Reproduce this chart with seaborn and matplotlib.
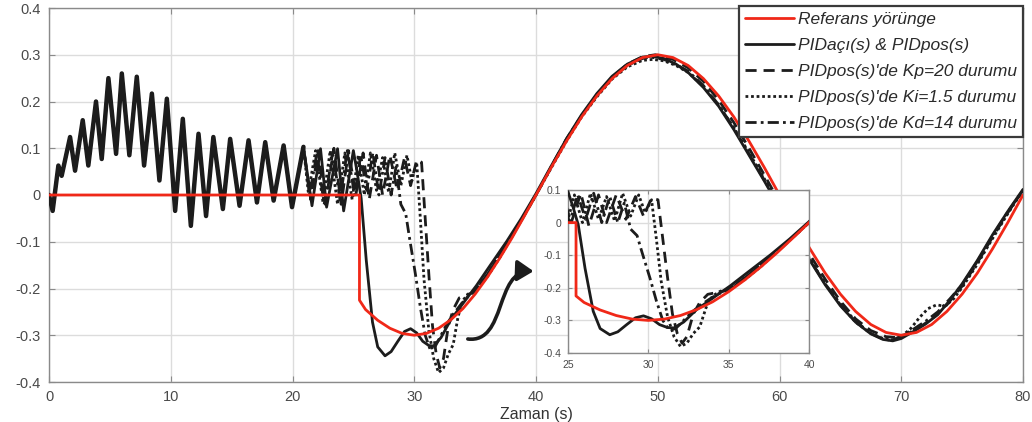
import matplotlib
matplotlib.use("Agg")
import matplotlib.pyplot as plt
import seaborn as sns
from matplotlib.path import Path
from matplotlib.patches import FancyArrowPatch

# --- reference trajectory (red)
t_ref = [0, 25.5, 25.5, 26, 27, 28, 29, 30, 31, 32, 33, 34, 35, 36, 37, 38, 39, 40,
         41.25, 42.5, 43.75, 45, 46.25, 47.5, 48.75, 50, 51.25, 52.5, 53.75, 55, 56.25,
         57.5, 58.75, 60, 61.25, 62.5, 63.75, 65, 66.25, 67.5, 68.75, 70, 71.25, 72.5,
         73.75, 75, 76.25, 77.5, 78.75, 80]
y_ref = [0, 0, -0.225, -0.245, -0.268, -0.285, -0.296, -0.300, -0.296, -0.285, -0.267,
         -0.243, -0.212, -0.176, -0.136, -0.093, -0.047, 0.0,
         0.059, 0.115, 0.167, 0.212, 0.249, 0.277, 0.294, 0.300, 0.294, 0.277, 0.249,
         0.212, 0.167, 0.115, 0.059, 0.0, -0.059, -0.115, -0.167, -0.212, -0.249,
         -0.277, -0.294, -0.300, -0.294, -0.277, -0.249, -0.212, -0.167, -0.115,
         -0.059, 0.0]

# --- oscillation shared by all controller responses (0 - 21 s)
t_osc = [0, 0.3, 0.77, 1.04, 1.73, 2.14, 2.77, 3.23, 3.86, 4.33, 4.88, 5.51, 5.98, 6.6,
         7.21, 7.81, 8.45, 9.07, 9.68, 10.36, 10.99, 11.65, 12.28, 12.9, 13.5, 14.28,
         14.88, 15.65, 16.39, 17.08, 17.76, 18.45, 19.27, 19.96, 20.9]
y_osc = [0.0, -0.034, 0.063, 0.041, 0.124, 0.052, 0.16, 0.063, 0.2, 0.077, 0.25, 0.088,
         0.26, 0.085, 0.253, 0.063, 0.217, 0.031, 0.206, -0.034, 0.163, -0.066, 0.131,
         -0.045, 0.124, -0.03, 0.12, -0.023, 0.117, -0.016, 0.113, -0.012, 0.106,
         -0.026, 0.103]

# --- PIDaci(s) & PIDpos(s)  (solid)
t_pid = [21.6, 22.3, 22.8, 23.7, 24.2, 25.0, 25.3, 25.64, 26.06, 26.57, 27.0, 27.6,
         28.1, 28.65, 29.2, 29.7, 30.2, 30.7, 31.2, 31.6, 32.2, 33.0, 34.0, 35.1, 36.2,
         37.6, 38.8, 40.0, 41.25, 42.5, 43.75, 45, 46.25, 47.5, 48.75, 49.5, 50.5, 51.5,
         52.5, 53.75, 55, 56.25, 57.5, 58.75, 60, 61.25, 62.5, 63.75, 65, 66.25, 67.5,
         68.5, 69.3, 70, 71, 72, 73, 74, 75, 76.25, 77.5, 78.75, 80]
y_pid = [-0.023, 0.099, -0.026, 0.099, -0.034, 0.095, 0.05, -0.007, -0.14, -0.272,
         -0.325, -0.344, -0.335, -0.313, -0.292, -0.286, -0.295, -0.313, -0.322,
         -0.323, -0.305, -0.267, -0.232, -0.194, -0.152, -0.099, -0.05, 0.003,
         0.062, 0.12, 0.172, 0.217, 0.254, 0.28, 0.295, 0.297, 0.292, 0.28, 0.262,
         0.23, 0.19, 0.14, 0.085, 0.03, -0.027, -0.085, -0.14, -0.192, -0.237, -0.272,
         -0.297, -0.309, -0.312, -0.307, -0.292, -0.276, -0.256, -0.225, -0.19, -0.14,
         -0.085, -0.035, 0.012]

# --- PIDpos(s)'de Kp=20 (dashed)
t_kp = [21.5, 22.1, 22.7, 23.4, 24.0, 24.6, 25.2, 25.8, 26.3, 26.9, 27.4, 28.0, 28.6,
        29.2, 29.7, 30.2, 30.6, 30.9, 31.2, 31.5, 31.8, 32.1, 32.4, 32.8, 33.2, 33.7,
        34.2, 34.7, 35.0, 36, 37, 38, 40, 41.25, 42.5, 43.75, 45, 46.25, 47.5, 48.75,
        49.8, 51.25, 52.5, 53.75, 55, 56.25, 57.5, 58.75, 60, 61.25, 62.5, 63.75, 65,
        66.25, 67.5, 68.75, 69.6, 70.5, 71.5, 72.5, 73.75, 75, 76.25, 77.5, 78.75, 80]
y_kp = [-0.01, 0.095, -0.02, 0.1, -0.02, 0.095, 0.0, 0.09, -0.01, 0.085, 0.0, 0.085,
        0.01, 0.08, 0.02, 0.075, 0.07, -0.05, -0.17, -0.28, -0.34, -0.37, -0.35,
        -0.28, -0.245, -0.22, -0.215, -0.21, -0.205, -0.17, -0.13, -0.09, 0.0, 0.06,
        0.118, 0.17, 0.215, 0.252, 0.28, 0.296, 0.3, 0.29, 0.272, 0.243, 0.203, 0.155,
        0.1, 0.043, -0.015, -0.073, -0.128, -0.18, -0.227, -0.265, -0.29, -0.303,
        -0.305, -0.297, -0.283, -0.265, -0.235, -0.195, -0.145, -0.09, -0.038, 0.01]

# --- PIDpos(s)'de Ki=1.5 (dotted)
t_ki = [21.3, 21.9, 22.5, 23.1, 23.7, 24.3, 24.9, 25.4, 25.9, 26.4, 26.9, 27.4, 27.9,
        28.4, 28.9, 29.4, 29.8, 30.2, 30.5, 30.8, 31.2, 31.6, 32.0, 32.4, 32.8, 33.2,
        33.6, 34.0, 34.5, 35.0, 36, 37, 38, 40, 41.25, 42.5, 43.75, 45, 46.25, 47.5,
        48.75, 49.6, 50.5, 51.5, 52.5, 53.75, 55, 56.25, 57.5, 58.75, 60, 61.25, 62.5,
        63.75, 65, 66.25, 67.5, 68.5, 69.3, 70, 70.8, 71.5, 72.2, 72.9, 73.6, 74.3, 75,
        76.25, 77.5, 78.75, 80]
y_ki = [0.005, 0.095, -0.015, 0.095, -0.02, 0.09, -0.01, 0.085, 0.0, 0.09, 0.01, 0.08,
        0.005, 0.09, 0.02, 0.085, 0.03, 0.07, -0.05, -0.18, -0.29, -0.35, -0.38,
        -0.37, -0.34, -0.32, -0.26, -0.225, -0.21, -0.205, -0.175, -0.135, -0.09, 0.0,
        0.058, 0.115, 0.167, 0.21, 0.248, 0.274, 0.288, 0.29, 0.287, 0.277, 0.262,
        0.232, 0.192, 0.144, 0.09, 0.035, -0.023, -0.08, -0.137, -0.19, -0.235, -0.272,
        -0.296, -0.307, -0.31, -0.303, -0.285, -0.262, -0.243, -0.235, -0.238, -0.222,
        -0.198, -0.148, -0.093, -0.04, 0.01]

# --- PIDpos(s)'de Kd=14 (dash-dot)
t_kd = [21.4, 22.0, 22.6, 23.3, 23.9, 24.5, 25.1, 25.6, 26.1, 26.6, 27.1, 27.6, 28.1,
        28.5, 28.9, 29.3, 29.6, 30.1, 30.5, 30.9, 31.3, 31.7, 32.2, 32.7, 33.2, 33.8,
        34.3, 35.0, 36, 37, 38, 40, 41.25, 42.5, 43.75, 45, 46.25, 47.5, 48.75, 49.4,
        50.5, 51.5, 52.5, 53.75, 55, 56.25, 57.5, 58.75, 60, 61.25, 62.5, 63.75, 65,
        66.25, 67.5, 68.5, 69.2, 70, 71, 72, 73, 74, 75, 76.25, 77.5, 78.75, 80]
y_kd = [0.0, 0.09, -0.02, 0.09, -0.01, 0.095, 0.0, 0.085, 0.01, 0.09, 0.0, 0.08, 0.0,
        0.06, -0.02, -0.04, -0.09, -0.17, -0.24, -0.3, -0.33, -0.325, -0.3, -0.275,
        -0.255, -0.235, -0.22, -0.205, -0.17, -0.13, -0.09, 0.0, 0.06, 0.12, 0.17,
        0.213, 0.25, 0.277, 0.292, 0.295, 0.29, 0.279, 0.265, 0.234, 0.193, 0.143,
        0.088, 0.032, -0.024, -0.082, -0.138, -0.19, -0.233, -0.27, -0.296, -0.308,
        -0.311, -0.302, -0.287, -0.27, -0.25, -0.222, -0.192, -0.142, -0.088, -0.036,
        0.01]

labels = ["Referans yörünge", "PIDaçı(s) & PIDpos(s)", "PIDpos(s)'de Kp=20 durumu",
          "PIDpos(s)'de Ki=1.5 durumu", "PIDpos(s)'de Kd=14 durumu"]

x_ticks = [0, 10, 20, 30, 40, 50, 60, 70, 80]
y_ticks = [-0.4, -0.3, -0.2, -0.1, 0, 0.1, 0.2, 0.3, 0.4]
y_ticklabels = ["-0.4", "-0.3", "-0.2", "-0.1", "0", "0.1", "0.2", "0.3", "0.4"]
inset_xticks = [25, 30, 35, 40]
inset_yticks = [-0.4, -0.3, -0.2, -0.1, 0, 0.1]
inset_yticklabels = ["-0.4", "-0.3", "-0.2", "-0.1", "0", "0.1"]

sns.set_style("whitegrid")
plt.rcParams['font.family'] = ['Liberation Sans', 'DejaVu Sans']

RED = "#f02818"
BLK = "#1c1c1c"
series = [
    (t_ref, y_ref, RED, "-", 2.0, 5),
    (t_osc + t_pid, y_osc + y_pid, BLK, "-", 2.0, 4),
    (t_osc + t_kp, y_osc + y_kp, BLK, (0, (4, 2.5)), 2.0, 3),
    (t_osc + t_ki, y_osc + y_ki, BLK, (0, (1, 1)), 2.0, 3),
    (t_osc + t_kd, y_osc + y_kd, BLK, (0, (4, 1.5, 1, 1.5)), 2.0, 3),
]


def draw(ax, with_labels):
    for i, (t, y, c, ls, lw, z) in enumerate(series):
        sns.lineplot(x=t, y=y, ax=ax, color=c, linestyle=ls, linewidth=lw,
                     estimator=None, sort=False, legend=False, zorder=z,
                     label=labels[i] if with_labels else None)
    # the overlapping, noisy start of the responses reads as one thick band
    sns.lineplot(x=t_osc, y=y_osc, ax=ax, color=BLK, linewidth=3.2,
                 estimator=None, sort=False, legend=False, zorder=3)


def style(ax, fs, pad):
    ax.set_facecolor("white")
    ax.grid(True, color="#dcdcdc", linewidth=1.0)
    for s in ax.spines.values():
        s.set_visible(True)
        s.set_color("#8a8a8a")
        s.set_linewidth(1.0)
    ax.tick_params(direction="in", length=4, width=0.8, color="#8a8a8a",
                   labelsize=fs, labelcolor="#4a4a4a", pad=pad,
                   top=True, right=True, bottom=True, left=True)
    ax.set_xlabel("")
    ax.set_ylabel("")


fig = plt.figure(figsize=(10.32, 4.22), dpi=100)
ax = fig.add_axes([49 / 1032, 40 / 422, 974 / 1032, 374 / 422])
draw(ax, True)
style(ax, 10.5, 6)
ax.set_xlim(0, 80)
ax.set_ylim(-0.4, 0.4)
ax.set_xticks(x_ticks)
ax.set_yticks(y_ticks)
ax.set_yticklabels(y_ticklabels)
ax.set_xlabel("Zaman (s)", fontsize=11.5, color="#333333", labelpad=2)

handles, _ = ax.get_legend_handles_labels()
leg = ax.legend(handles[:5], labels, loc="upper right", bbox_to_anchor=(1.0, 1.005),
                borderaxespad=0, fancybox=False, frameon=True, edgecolor="#3a3a3a",
                framealpha=1, prop=dict(style="italic", size=12.5), handlelength=2.8,
                handletextpad=0.25, labelspacing=0.62, borderpad=0.35)
leg.get_frame().set_linewidth(1.6)
for txt in leg.get_texts():
    txt.set_color("#2a2a2a")
leg.set_zorder(10)

# curved arrow pointing to the zoomed view
arrow_path = Path([(34.4, -0.308), (37.6, -0.318), (36.6, -0.16), (39.8, -0.163)],
                  [Path.MOVETO, Path.CURVE4, Path.CURVE4, Path.CURVE4])
arrow = FancyArrowPatch(path=arrow_path, arrowstyle="-|>,head_length=0.7,head_width=0.45",
                        mutation_scale=14, linewidth=2.6, color=BLK,
                        transform=ax.transData, zorder=6)
ax.add_patch(arrow)

# inset zoom on 25 - 40 s
axin = fig.add_axes([568 / 1032, 69 / 422, 241 / 1032, 163 / 422])
draw(axin, False)
style(axin, 7.5, 5)
axin.set_xlim(25, 40)
axin.set_ylim(-0.4, 0.1)
axin.set_xticks(inset_xticks)
axin.set_yticks(inset_yticks)
axin.set_yticklabels(inset_yticklabels)
axin.tick_params(length=3)

fig.savefig("out.png", dpi=100)
